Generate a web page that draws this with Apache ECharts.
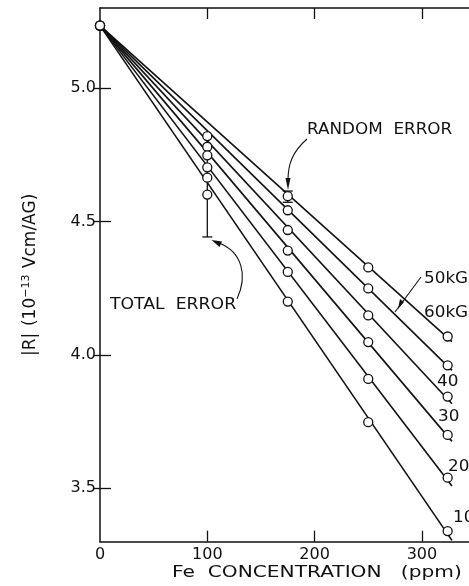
<!DOCTYPE html>
<html>
<head>
<meta charset="utf-8">
<script src="https://cdn.jsdelivr.net/npm/echarts@6/dist/echarts.min.js"></script>
<style>
  html, body { margin: 0; padding: 0; background: #fff; }
  #chart { width: 469px; height: 586px; }
</style>
</head>
<body>
<div id="chart"></div>
<script>
// ---- data ----
const concentrations = [0, 100, 175, 250, 324];          // ppm
const fieldLabels = ['50kG', '60kG', '40', '30', '20', '10'];
const r50 = [5.234, 4.820, 4.595, 4.328, 4.069];
const r60 = [5.234, 4.780, 4.542, 4.249, 3.961];
const r40 = [5.234, 4.748, 4.468, 4.148, 3.844];
const r30 = [5.234, 4.703, 4.391, 4.048, 3.700];
const r20 = [5.234, 4.664, 4.311, 3.910, 3.540];
const r10 = [5.234, 4.601, 4.200, 3.748, 3.340];
// straight fitted lines drawn in the figure: from (fitX[0], fitStart) to (fitX[1], fitEnd[i])
const fitX = [0, 328];
const fitStart = 5.234;
const fitEnd = [4.050, 3.942, 3.817, 3.676, 3.509, 3.305];
// error bars: [x, low, high]
const errorBars = [[100, 4.442, 4.82], [175, 4.572, 4.614]];
const xTicks = [0, 100, 200, 300];
const yTicks = [3.5, 4.0, 4.5, 5.0];

const allSeries = [r50, r60, r40, r30, r20, r10];
const FONT = '"DejaVu Sans", sans-serif';
const INK = '#111';

const chart = echarts.init(document.getElementById('chart'), null, { renderer: 'canvas' });

const series = [];
series.push({
  type: 'custom',
  xAxisIndex: 0, yAxisIndex: 0,
  z: 1,
  data: errorBars,
  renderItem: function (params, api) {
    const x = api.value(0), lo = api.value(1), hi = api.value(2);
    const p1 = api.coord([x, lo]), p2 = api.coord([x, hi]);
    const cap = 5;
    const st = { stroke: INK, lineWidth: 1.3 };
    return { type: 'group', children: [
      { type: 'line', shape: { x1: p1[0], y1: p1[1], x2: p2[0], y2: p2[1] }, style: st },
      { type: 'line', shape: { x1: p1[0] - cap, y1: p1[1], x2: p1[0] + cap, y2: p1[1] }, style: st },
      { type: 'line', shape: { x1: p2[0] - cap, y1: p2[1], x2: p2[0] + cap, y2: p2[1] }, style: st }
    ]};
  }
});
fitEnd.forEach(function (e, i) {
  series.push({
    type: 'line', name: fieldLabels[i] + ' fit',
    data: [[fitX[0], fitStart], [fitX[1], e]],
    showSymbol: false, symbol: 'none',
    lineStyle: { color: INK, width: 1.6 },
    z: 2, silent: true, animation: false
  });
});
allSeries.forEach(function (vals, i) {
  series.push({
    type: 'scatter', name: fieldLabels[i],
    data: concentrations.map(function (c, k) { return [c, vals[k]]; }),
    symbol: 'circle', symbolSize: 9,
    itemStyle: { color: '#fff', borderColor: INK, borderWidth: 1.3, opacity: 1 },
    z: 3, animation: false
  });
});

function txt(x, y, s, size, sx) {
  return { type: 'text', x: x, y: y, scaleX: sx || 1, style: { text: s, font: size + 'px ' + FONT, fill: INK } };
}

const option = {
  backgroundColor: '#fff',
  animation: false,
  grid: { left: 100, top: 8, width: 369, height: 533.7, containLabel: false },
  xAxis: [
    {
      type: 'value', min: 0, max: 343.9, position: 'bottom',
      axisLine: { show: true, onZero: false, lineStyle: { color: INK, width: 1.5 } },
      axisTick: { show: true, inside: true, length: 11, customValues: xTicks.slice(1), lineStyle: { color: INK, width: 1.3 } },
      axisLabel: { show: true, customValues: xTicks, margin: 5, color: INK, fontFamily: FONT, fontSize: 16 },
      splitLine: { show: false }
    },
    {
      type: 'value', min: 0, max: 343.9, position: 'top',
      axisLine: { show: true, onZero: false, lineStyle: { color: INK, width: 1.5 } },
      axisTick: { show: true, inside: true, length: 11, customValues: xTicks.slice(1), lineStyle: { color: INK, width: 1.3 } },
      axisLabel: { show: false },
      splitLine: { show: false }
    }
  ],
  yAxis: [
    {
      type: 'value', min: 3.3, max: 5.3, position: 'left',
      name: '{a||R|}  {a|(10}{s|−13}{a| Vcm/AG)}',
      nameLocation: 'middle', nameGap: 59, nameRotate: 90,
      nameTextStyle: {
        rich: {
          a: { fontFamily: FONT, fontSize: 17, color: INK },
          s: { fontFamily: FONT, fontSize: 11, color: INK, verticalAlign: 'top', padding: [0, 1, 9, 0] }
        }
      },
      axisLine: { show: true, onZero: false, lineStyle: { color: INK, width: 1.5 } },
      axisTick: { show: true, inside: true, length: 11, customValues: yTicks, lineStyle: { color: INK, width: 1.3 } },
      axisLabel: { show: true, customValues: yTicks, margin: 4, color: INK, fontFamily: FONT, fontSize: 16,
                   formatter: function (v) { return v.toFixed(1); } },
      splitLine: { show: false }
    },
    {
      type: 'value', min: 3.3, max: 5.3, position: 'right',
      axisLine: { show: false },
      axisTick: { show: true, inside: true, length: 6, customValues: yTicks, lineStyle: { color: INK, width: 1.3 } },
      axisLabel: { show: false },
      splitLine: { show: false }
    }
  ],
  series: series,
  graphic: [
    txt(172, 565, 'Fe  CONCENTRATION   (ppm)', 16, 1.26),
    txt(307, 123, 'RANDOM  ERROR', 15, 1.12),
    txt(110, 298, 'TOTAL  ERROR', 15, 1.15),
    txt(424, 271, '50kG', 16, 1.05),
    txt(424, 305, '60kG', 16, 1.05),
    txt(437, 374, '40', 16, 1.05),
    txt(438, 409, '30', 16, 1.05),
    txt(448, 459, '20', 16, 1.05),
    txt(453, 510, '10', 16, 1.05),
    { type: 'bezierCurve', shape: { x1: 307, y1: 139, cpx1: 292, cpy1: 152, cpx2: 288, cpy2: 165, x2: 288, y2: 180 },
      style: { stroke: INK, lineWidth: 1.1, fill: null } },
    { type: 'polygon', shape: { points: [[285.5, 178], [290.5, 178], [288, 190]] }, style: { fill: INK } },
    { type: 'bezierCurve', shape: { x1: 237, y1: 299, cpx1: 248, cpy1: 275, cpx2: 242, cpy2: 252, x2: 219, y2: 243 },
      style: { stroke: INK, lineWidth: 1.1, fill: null } },
    { type: 'polygon', shape: { points: [[211.5, 240], [222, 241.5], [219.5, 247]] }, style: { fill: INK } },
    { type: 'line', shape: { x1: 421, y1: 277, x2: 395, y2: 312 }, style: { stroke: INK, lineWidth: 1.1 } },
    { type: 'polygon', shape: { points: [[400, 299], [404, 302], [398, 309]] }, style: { fill: INK } }
  ]
};
chart.setOption(option);
</script>
</body>
</html>
